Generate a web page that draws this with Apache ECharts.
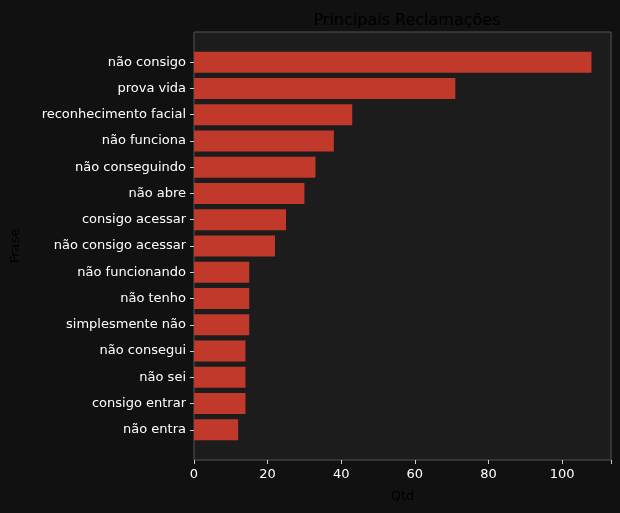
<!DOCTYPE html>
<html><head><meta charset="utf-8">
<script src="https://cdn.jsdelivr.net/npm/echarts@6/dist/echarts.min.js"></script>
<style>html,body{margin:0;background:#111111;}#c{width:620px;height:513px;}</style>
</head><body><div id="c"></div>
<script>
const categories = ["não consigo","prova vida","reconhecimento facial","não funciona","não conseguindo","não abre","consigo acessar","não consigo acessar","não funcionando","não tenho","simplesmente não","não consegui","não sei","consigo entrar","não entra"];
const values = [108,71,43,38,33,30,25,22,15,15,15,14,14,14,12];
const xTicks = [0,20,40,60,80,100];
const chart = echarts.init(document.getElementById('c'));
const F = 'DejaVu Sans';
chart.setOption({
  backgroundColor:'#111111',
  animation:false,
  title:{text:'Principais Reclamações',left:402,top:8,textAlign:'center',textStyle:{color:'#000',fontSize:16,fontWeight:'normal',fontFamily:F}},
  graphic:[{type:'rect',z:-10,shape:{x:194,y:32,width:417,height:428},style:{fill:'#1c1c1c',stroke:'#555',lineWidth:1}}],
  grid:[{left:194,right:9,top:32,bottom:53},{left:194,right:9,top:49,bottom:70}],
  xAxis:[
    {gridIndex:0,type:'value',min:0,max:113.3,interval:20,name:'Qtd',nameLocation:'middle',nameGap:30,nameTextStyle:{color:'#000',fontSize:13,fontFamily:F},
     axisLine:{show:false},axisTick:{show:true,length:4,lineStyle:{color:'#ccc'}},splitLine:{show:false},
     axisLabel:{color:'#fff',fontSize:13,fontFamily:F,margin:8,formatter:v=>xTicks.includes(v)?String(v):''}},
    {gridIndex:1,type:'value',min:0,max:113.3,show:false}
  ],
  yAxis:[
    {gridIndex:0,type:'value',show:true,axisLabel:{show:false},axisLine:{show:false},axisTick:{show:false},splitLine:{show:false},
     name:'Frase',nameLocation:'middle',nameGap:172,nameRotate:90,nameTextStyle:{color:'#000',fontSize:13,fontFamily:F}},
    {gridIndex:1,type:'category',inverse:true,data:categories,axisLine:{show:false},
     axisTick:{show:true,length:4,alignWithLabel:true,lineStyle:{color:'#ccc'}},
     axisLabel:{color:'#fff',fontSize:13,fontFamily:F,margin:8}}
  ],
  series:[{type:'bar',xAxisIndex:1,yAxisIndex:1,data:values,barWidth:21,itemStyle:{color:'#c0392b'}}]
});
</script></body></html>
